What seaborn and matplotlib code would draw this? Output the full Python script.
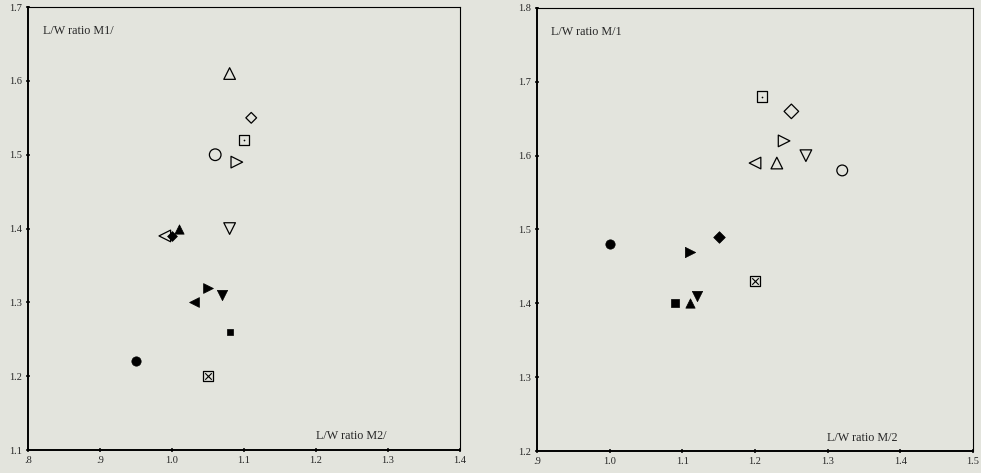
import pandas as pd
import numpy as np
import matplotlib.pyplot as plt
import seaborn as sns

# left panel: L/W ratio M2/ (x) vs L/W ratio M1/ (y)
left_open_marker = ['^', 'D', 's', 'o', '>', 'v', '<']
left_open_x = [1.08, 1.11, 1.10, 1.06, 1.09, 1.08, 0.99]
left_open_y = [1.61, 1.55, 1.52, 1.50, 1.49, 1.40, 1.39]
left_open_size = [70, 30, 45, 70, 70, 70, 70]

left_fill_marker = ['D', '^', '>', 'v', '<', 's', 'o']
left_fill_x = [1.00, 1.01, 1.05, 1.07, 1.03, 1.08, 0.95]
left_fill_y = [1.39, 1.40, 1.32, 1.31, 1.30, 1.26, 1.22]
left_fill_size = [25, 45, 50, 55, 50, 22, 45]

left_box_x = [1.05]
left_box_y = [1.20]

# right panel: L/W ratio M/2 (x) vs L/W ratio M/1 (y)
right_open_marker = ['s', 'D', '>', '<', '^', 'v', 'o']
right_open_x = [1.21, 1.25, 1.24, 1.20, 1.23, 1.27, 1.32]
right_open_y = [1.68, 1.66, 1.62, 1.59, 1.59, 1.60, 1.58]
right_open_size = [55, 55, 70, 70, 70, 70, 60]

right_fill_marker = ['o', '>', 'D', 's', '^', 'v']
right_fill_x = [1.00, 1.11, 1.15, 1.09, 1.11, 1.12]
right_fill_y = [1.48, 1.47, 1.49, 1.40, 1.40, 1.41]
right_fill_size = [45, 55, 35, 40, 45, 55]

right_box_x = [1.20]
right_box_y = [1.43]

bg = '#e3e4dd'
sns.set_style("white")
plt.rcParams['font.family'] = ['Liberation Serif', 'DejaVu Serif']

fig = plt.figure(figsize=(9.81, 4.73), dpi=100, facecolor=bg)
ax1 = fig.add_axes([0.0285, 0.0486, 0.4405, 0.9364])
ax2 = fig.add_axes([0.5474, 0.0465, 0.4445, 0.9366])


def draw(ax, om, ox, oy, osz, fm, fx, fy, fsz, bx, by, dotted):
    for m, x, y, s in zip(om, ox, oy, osz):
        sns.scatterplot(x=[x], y=[y], marker=m, s=s, facecolors='none',
                        edgecolor='black', linewidth=0.9, ax=ax)
    for m, x, y, s in zip(fm, fx, fy, fsz):
        sns.scatterplot(x=[x], y=[y], marker=m, s=s, color='black',
                        edgecolor='black', linewidth=0.5, ax=ax)
    # square with dot inside
    sns.scatterplot(x=[dotted[0]], y=[dotted[1]], marker='.', s=6,
                    color='black', linewidth=0, ax=ax)
    # square with a cross inside
    sns.scatterplot(x=bx, y=by, marker='s', s=55, facecolors='none',
                    edgecolor='black', linewidth=0.9, ax=ax)
    sns.scatterplot(x=bx, y=by, marker='x', s=22, color='black',
                    linewidth=0.8, ax=ax)


draw(ax1, left_open_marker, left_open_x, left_open_y, left_open_size,
     left_fill_marker, left_fill_x, left_fill_y, left_fill_size,
     left_box_x, left_box_y, (1.10, 1.52))
draw(ax2, right_open_marker, right_open_x, right_open_y, right_open_size,
     right_fill_marker, right_fill_x, right_fill_y, right_fill_size,
     right_box_x, right_box_y, (1.21, 1.68))

ax1.set_xlim(0.8, 1.4)
ax1.set_ylim(1.1, 1.7)
ax1.set_xticks([0.8, 0.9, 1.0, 1.1, 1.2, 1.3, 1.4])
ax1.set_xticklabels(['.8', '.9', '1.0', '1.1', '1.2', '1.3', '1.4'])
ax1.set_yticks([1.1, 1.2, 1.3, 1.4, 1.5, 1.6, 1.7])
ax1.set_yticklabels(['1.1', '1.2', '1.3', '1.4', '1.5', '1.6', '1.7'])
ax1.text(0.035, 0.946, 'L/W ratio M1/', transform=ax1.transAxes,
         fontsize=8.7, va='center')
ax1.text(0.667, 0.032, 'L/W ratio M2/', transform=ax1.transAxes,
         fontsize=8.7, va='center')

ax2.set_xlim(0.9, 1.5)
ax2.set_ylim(1.2, 1.8)
ax2.set_xticks([0.9, 1.0, 1.1, 1.2, 1.3, 1.4, 1.5])
ax2.set_xticklabels(['.9', '1.0', '1.1', '1.2', '1.3', '1.4', '1.5'])
ax2.set_yticks([1.2, 1.3, 1.4, 1.5, 1.6, 1.7, 1.8])
ax2.set_yticklabels(['1.2', '1.3', '1.4', '1.5', '1.6', '1.7', '1.8'])
ax2.text(0.032, 0.946, 'L/W ratio M/1', transform=ax2.transAxes,
         fontsize=8.7, va='center')
ax2.text(0.665, 0.029, 'L/W ratio M/2', transform=ax2.transAxes,
         fontsize=8.7, va='center')

for ax in (ax1, ax2):
    ax.set_facecolor(bg)
    ax.set_xlabel('')
    ax.set_ylabel('')
    ax.spines['left'].set_linewidth(1.4)
    ax.spines['bottom'].set_linewidth(1.4)
    ax.spines['top'].set_linewidth(0.8)
    ax.spines['right'].set_linewidth(0.8)
    for sp in ax.spines.values():
        sp.set_color('black')
    ax.tick_params(axis='both', direction='inout', length=3, width=1.3,
                   labelsize=7.5, pad=3, left=True, bottom=True)

fig.savefig('out.png', dpi=100, facecolor=bg)
